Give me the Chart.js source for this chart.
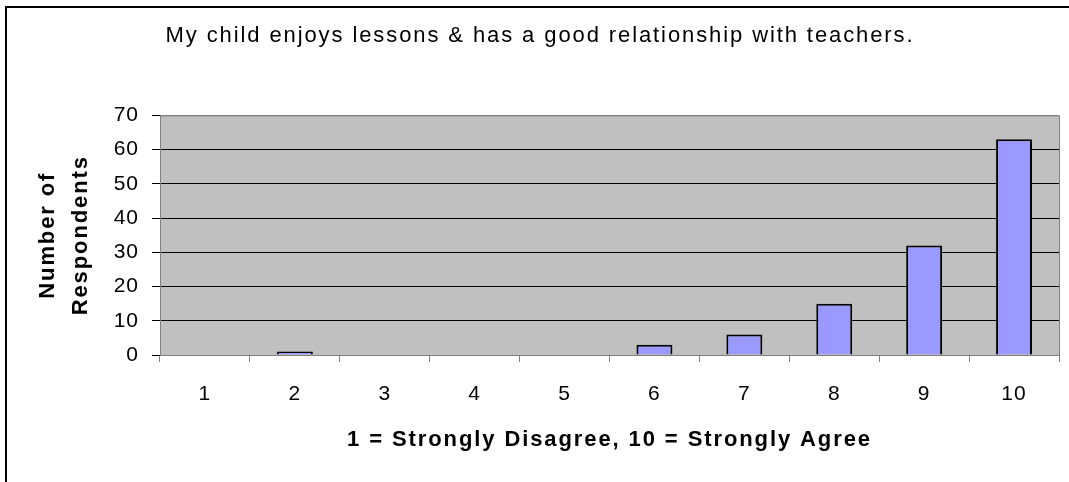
<!DOCTYPE html>
<html>
<head>
<meta charset="utf-8">
<script src="https://cdn.jsdelivr.net/npm/chart.js@4"></script>
<style>
  html, body { margin: 0; padding: 0; background: #fff; }
  #wrap { width: 1069px; height: 482px; }
</style>
</head>
<body>
<div id="wrap"><canvas id="surveyChart" width="1069" height="482"></canvas></div>
<script>
const categories = ["1", "2", "3", "4", "5", "6", "7", "8", "9", "10"];
const respondents = [0, 1, 0, 0, 0, 3, 6, 15, 32, 63];
const yTicks = [0, 10, 20, 30, 40, 50, 60, 70];

const chartTitle = "My child enjoys lessons & has a good relationship with teachers.";
const yTitle = ["Number of", "Respondents"];
const xTitle = "1 = Strongly Disagree, 10 = Strongly Agree";

const FONT = "'Liberation Sans', Arial, sans-serif";

// the original text is drawn horizontally stretched, so widen it a bit
const spacing = {
  id: "spacing",
  beforeDraw(chart) { chart.ctx.letterSpacing = "1.9px"; },
  afterDatasetsDraw(chart) { chart.ctx.letterSpacing = "1px"; },
  afterDraw(chart) { chart.ctx.letterSpacing = "0px"; }
};

// grey plot area + outer frame
const frame = {
  id: "frame",
  beforeDraw(chart) {
    const { ctx, chartArea: a } = chart;
    ctx.save();
    ctx.fillStyle = "#C0C0C0";
    ctx.fillRect(a.left, a.top, a.right - a.left, a.bottom - a.top);
    ctx.restore();
  },
  afterDraw(chart) {
    const { ctx, chartArea: a } = chart;
    ctx.save();
    ctx.strokeStyle = "#808080";
    ctx.lineWidth = 1;
    ctx.beginPath();
    ctx.moveTo(a.left, a.top + 0.5);
    ctx.lineTo(a.right + 0.5, a.top + 0.5);
    ctx.lineTo(a.right + 0.5, a.bottom);
    ctx.stroke();
    // outer border (only top + left fall inside the picture)
    ctx.strokeStyle = "#000";
    ctx.lineWidth = 2;
    ctx.beginPath();
    ctx.moveTo(6, 482);
    ctx.lineTo(6, 7);
    ctx.lineTo(1069, 7);
    ctx.stroke();
    ctx.restore();
  }
};

const ctx = document.getElementById("surveyChart").getContext("2d");
const chart = new Chart(ctx, {
  type: "bar",
  data: {
    labels: categories,
    datasets: [{
      label: "Respondents",
      data: respondents,
      backgroundColor: "#9999FF",
      borderColor: "#000000",
      borderWidth: 2,
      barPercentage: 0.4,
      categoryPercentage: 1.0
    }]
  },
  options: {
    responsive: false,
    animation: false,
    layout: { padding: { left: 21, right: 10, top: 0, bottom: 0 } },
    plugins: {
      legend: { display: false },
      tooltip: { enabled: false },
      title: {
        display: true,
        text: chartTitle,
        color: "#000",
        font: { family: FONT, size: 22, weight: "normal" },
        padding: { top: 23, bottom: 66 }
      }
    },
    scales: {
      x: {
        grid: {
          offset: true,
          drawOnChartArea: false,
          drawTicks: true,
          tickLength: 7,
          tickColor: "#808080"
        },
        border: { color: "#808080", width: 1 },
        ticks: {
          z: 1,
          color: "#000",
          padding: 20,
          font: { family: FONT, size: 21 }
        },
        title: {
          display: true,
          text: xTitle,
          color: "#000",
          font: { family: FONT, size: 22, weight: "bold" },
          padding: { top: 0, bottom: 29 }
        },
        afterFit(scale) { scale.height = 127; }
      },
      y: {
        min: 0,
        max: 70,
        afterBuildTicks(scale) { scale.ticks = yTicks.map(v => ({ value: v })); },
        grid: {
          color: c => (c.tick && (c.tick.value === 0 || c.tick.value === 70)) ? "#808080" : "#000000",
          tickColor: "#000",
          tickLength: 8
        },
        border: { color: "#808080", width: 1 },
        ticks: {
          z: 1,
          color: "#000",
          padding: 13,
          font: { family: FONT, size: 21 }
        },
        title: {
          display: true,
          text: yTitle,
          color: "#000",
          font: { family: FONT, size: 22, weight: "bold", lineHeight: 1.5 },
          padding: { top: 10, bottom: 0 }
        },
        afterFit(scale) { scale.width = 139; }
      }
    }
  },
  plugins: [spacing, frame]
});
</script>
</body>
</html>
